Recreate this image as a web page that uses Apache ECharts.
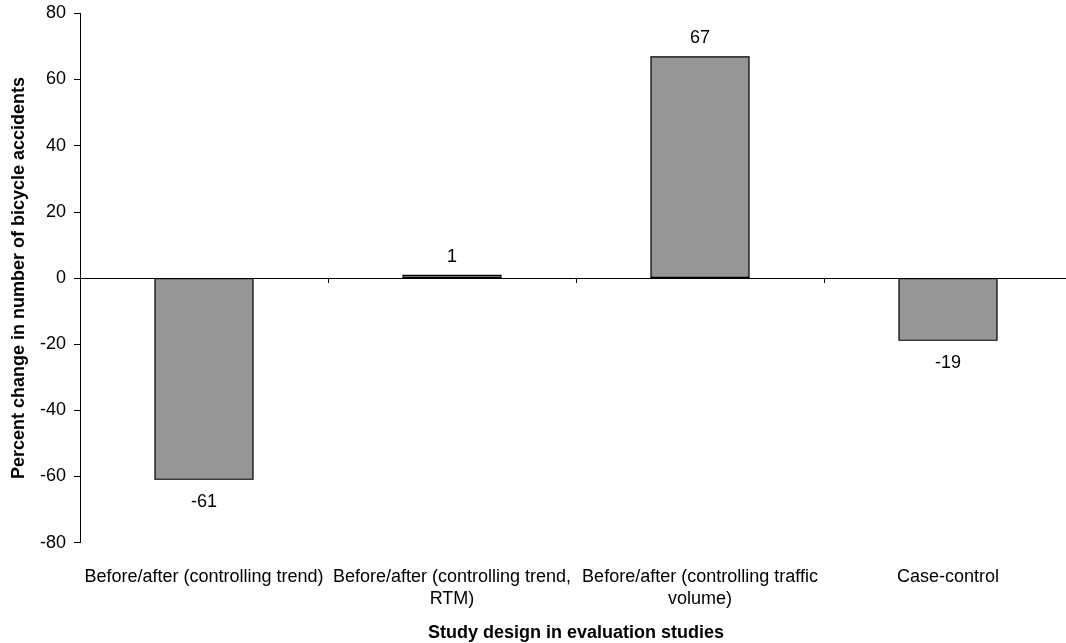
<!DOCTYPE html>
<html>
<head>
<meta charset="utf-8">
<script src="https://cdn.jsdelivr.net/npm/echarts@6/dist/echarts.min.js"></script>
<style>html,body{margin:0;padding:0;background:#fff;}#c{width:1066px;height:643px;}</style>
</head>
<body>
<div id="c"></div>
<script>
var categories = [
  'Before/after (controlling trend)',
  'Before/after (controlling trend,\nRTM)',
  'Before/after (controlling traffic\nvolume)',
  'Case-control'
];
var values = [-61, 1, 67, -19];
var yTicks = { min: -80, max: 80, interval: 20 };

var chart = echarts.init(document.getElementById('c'), null, { renderer: 'canvas' });
var font = 'Liberation Sans, Arial, sans-serif';
chart.setOption({
  animation: false,
  backgroundColor: '#fff',
  grid: { left: 80, width: 992, top: 13.3, bottom: 100.3, containLabel: false, outerBoundsMode: 'none' },
  xAxis: [{
    type: 'category',
    data: categories,
    axisLine: { onZero: true, lineStyle: { color: '#000', width: 1 } },
    axisTick: { show: true, alignWithLabel: false, length: 5, inside: false, lineStyle: { color: '#000' } },
    axisLabel: { show: false },
    splitLine: { show: false }
  }, {
    type: 'category',
    data: categories,
    position: 'bottom',
    axisLine: { show: false, onZero: false },
    axisTick: { show: false },
    axisLabel: { show: true, interval: 0, margin: 23, color: '#000', fontSize: 18, fontFamily: font, lineHeight: 22 },
    name: 'Study design in evaluation studies',
    nameLocation: 'middle',
    nameGap: 81,
    nameTextStyle: { color: '#000', fontSize: 18, fontWeight: 'bold', fontFamily: font, verticalAlign: 'top' }
  }],
  yAxis: {
    type: 'value',
    min: yTicks.min, max: yTicks.max, interval: yTicks.interval,
    axisLine: { show: true, lineStyle: { color: '#000', width: 1 } },
    axisTick: { show: true, length: 6, lineStyle: { color: '#000' } },
    axisLabel: { color: '#000', fontSize: 18, fontFamily: font, margin: 14 },
    splitLine: { show: false },
    name: 'Percent change in number of bicycle accidents',
    nameLocation: 'middle',
    nameGap: 52,
    nameTextStyle: { color: '#000', fontSize: 18, fontWeight: 'bold', fontFamily: font }
  },
  series: [{
    type: 'bar',
    xAxisIndex: 0,
    barWidth: '40%',
    data: values.map(function (v) {
      return {
        value: v,
        label: { position: v < 0 ? 'bottom' : 'top', distance: v < 0 ? 13 : 9 }
      };
    }),
    itemStyle: { color: '#969696', borderColor: '#000', borderWidth: 1.2 },
    label: { show: true, color: '#000', fontSize: 18, fontFamily: font }
  }]
});
</script>
</body>
</html>
